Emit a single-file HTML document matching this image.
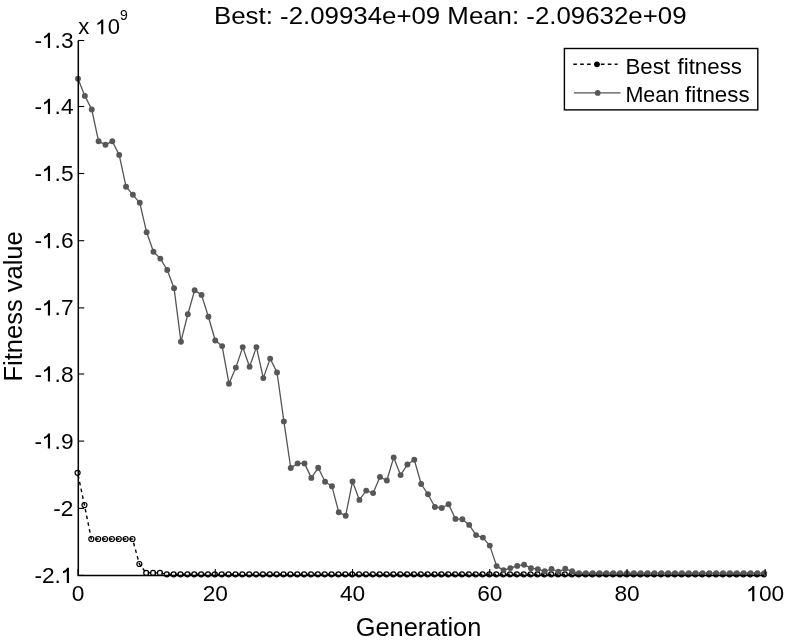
<!DOCTYPE html>
<html><head><meta charset="utf-8"><style>
html,body{margin:0;padding:0;background:#fff;width:786px;height:644px;overflow:hidden}
tspan.h1{fill-opacity:0}
svg{position:absolute;left:0;top:0;will-change:transform;font-family:"Liberation Sans",sans-serif}
</style></head><body>
<svg width="786" height="644" viewBox="0 0 786 644">
<rect width="786" height="644" fill="#fff"/>
<polyline points="77.60,472.80 84.46,505.00 91.33,539.00 98.19,539.00 105.05,539.00 111.91,539.00 118.78,539.00 125.64,539.00 132.50,539.00 139.37,564.00 146.23,572.90 153.09,572.90 159.96,572.90 166.82,574.30 173.68,574.30 180.55,574.30 187.41,574.30 194.27,574.30 201.13,574.30 208.00,574.30 214.86,574.30 221.72,574.30 228.59,574.30 235.45,574.30 242.31,574.30 249.18,574.30 256.04,574.30 262.90,574.30 269.76,574.30 276.63,574.30 283.49,574.30 290.35,574.30 297.22,574.30 304.08,574.30 310.94,574.30 317.81,574.30 324.67,574.30 331.53,574.30 338.39,574.30 345.26,574.30 352.12,574.30 358.98,574.30 365.85,574.30 372.71,574.30 379.57,574.30 386.44,574.30 393.30,574.30 400.16,574.30 407.02,574.30 413.89,574.30 420.75,574.30 427.61,574.30 434.48,574.30 441.34,574.30 448.20,574.30 455.07,574.30 461.93,574.30 468.79,574.30 475.65,574.30 482.52,574.30 489.38,574.30 496.24,574.30 503.11,574.30 509.97,574.30 516.83,574.30 523.70,574.30 530.56,574.30 537.42,574.30 544.28,574.30 551.15,574.30 558.01,574.30 564.87,574.30 571.74,574.30 578.60,574.30 585.46,574.30 592.33,574.30 599.19,574.30 606.05,574.30 612.91,574.30 619.78,574.30 626.64,574.30 633.50,574.30 640.37,574.30 647.23,574.30 654.09,574.30 660.96,574.30 667.82,574.30 674.68,574.30 681.54,574.30 688.41,574.30 695.27,574.30 702.13,574.30 709.00,574.30 715.86,574.30 722.72,574.30 729.59,574.30 736.45,574.30 743.31,574.30 750.17,574.30 757.04,574.30 763.90,574.30" fill="none" stroke="#000" stroke-width="1.4" stroke-dasharray="3.6 3.3" stroke-dashoffset="4.57"/>
<circle cx="77.60" cy="472.80" r="2.5" fill="none" stroke="#000" stroke-width="1.2"/>
<circle cx="84.46" cy="505.00" r="2.5" fill="none" stroke="#000" stroke-width="1.2"/>
<circle cx="91.33" cy="539.00" r="2.5" fill="none" stroke="#000" stroke-width="1.2"/>
<circle cx="98.19" cy="539.00" r="2.5" fill="none" stroke="#000" stroke-width="1.2"/>
<circle cx="105.05" cy="539.00" r="2.5" fill="none" stroke="#000" stroke-width="1.2"/>
<circle cx="111.91" cy="539.00" r="2.5" fill="none" stroke="#000" stroke-width="1.2"/>
<circle cx="118.78" cy="539.00" r="2.5" fill="none" stroke="#000" stroke-width="1.2"/>
<circle cx="125.64" cy="539.00" r="2.5" fill="none" stroke="#000" stroke-width="1.2"/>
<circle cx="132.50" cy="539.00" r="2.5" fill="none" stroke="#000" stroke-width="1.2"/>
<circle cx="139.37" cy="564.00" r="2.5" fill="none" stroke="#000" stroke-width="1.2"/>
<circle cx="146.23" cy="572.90" r="2.5" fill="none" stroke="#000" stroke-width="1.2"/>
<circle cx="153.09" cy="572.90" r="2.5" fill="none" stroke="#000" stroke-width="1.2"/>
<circle cx="159.96" cy="572.90" r="2.5" fill="none" stroke="#000" stroke-width="1.2"/>
<circle cx="166.82" cy="574.30" r="2.5" fill="none" stroke="#000" stroke-width="1.2"/>
<circle cx="173.68" cy="574.30" r="2.5" fill="none" stroke="#000" stroke-width="1.2"/>
<circle cx="180.55" cy="574.30" r="2.5" fill="none" stroke="#000" stroke-width="1.2"/>
<circle cx="187.41" cy="574.30" r="2.5" fill="none" stroke="#000" stroke-width="1.2"/>
<circle cx="194.27" cy="574.30" r="2.5" fill="none" stroke="#000" stroke-width="1.2"/>
<circle cx="201.13" cy="574.30" r="2.5" fill="none" stroke="#000" stroke-width="1.2"/>
<circle cx="208.00" cy="574.30" r="2.5" fill="none" stroke="#000" stroke-width="1.2"/>
<circle cx="214.86" cy="574.30" r="2.5" fill="none" stroke="#000" stroke-width="1.2"/>
<circle cx="221.72" cy="574.30" r="2.5" fill="none" stroke="#000" stroke-width="1.2"/>
<circle cx="228.59" cy="574.30" r="2.5" fill="none" stroke="#000" stroke-width="1.2"/>
<circle cx="235.45" cy="574.30" r="2.5" fill="none" stroke="#000" stroke-width="1.2"/>
<circle cx="242.31" cy="574.30" r="2.5" fill="none" stroke="#000" stroke-width="1.2"/>
<circle cx="249.18" cy="574.30" r="2.5" fill="none" stroke="#000" stroke-width="1.2"/>
<circle cx="256.04" cy="574.30" r="2.5" fill="none" stroke="#000" stroke-width="1.2"/>
<circle cx="262.90" cy="574.30" r="2.5" fill="none" stroke="#000" stroke-width="1.2"/>
<circle cx="269.76" cy="574.30" r="2.5" fill="none" stroke="#000" stroke-width="1.2"/>
<circle cx="276.63" cy="574.30" r="2.5" fill="none" stroke="#000" stroke-width="1.2"/>
<circle cx="283.49" cy="574.30" r="2.5" fill="none" stroke="#000" stroke-width="1.2"/>
<circle cx="290.35" cy="574.30" r="2.5" fill="none" stroke="#000" stroke-width="1.2"/>
<circle cx="297.22" cy="574.30" r="2.5" fill="none" stroke="#000" stroke-width="1.2"/>
<circle cx="304.08" cy="574.30" r="2.5" fill="none" stroke="#000" stroke-width="1.2"/>
<circle cx="310.94" cy="574.30" r="2.5" fill="none" stroke="#000" stroke-width="1.2"/>
<circle cx="317.81" cy="574.30" r="2.5" fill="none" stroke="#000" stroke-width="1.2"/>
<circle cx="324.67" cy="574.30" r="2.5" fill="none" stroke="#000" stroke-width="1.2"/>
<circle cx="331.53" cy="574.30" r="2.5" fill="none" stroke="#000" stroke-width="1.2"/>
<circle cx="338.39" cy="574.30" r="2.5" fill="none" stroke="#000" stroke-width="1.2"/>
<circle cx="345.26" cy="574.30" r="2.5" fill="none" stroke="#000" stroke-width="1.2"/>
<circle cx="352.12" cy="574.30" r="2.5" fill="none" stroke="#000" stroke-width="1.2"/>
<circle cx="358.98" cy="574.30" r="2.5" fill="none" stroke="#000" stroke-width="1.2"/>
<circle cx="365.85" cy="574.30" r="2.5" fill="none" stroke="#000" stroke-width="1.2"/>
<circle cx="372.71" cy="574.30" r="2.5" fill="none" stroke="#000" stroke-width="1.2"/>
<circle cx="379.57" cy="574.30" r="2.5" fill="none" stroke="#000" stroke-width="1.2"/>
<circle cx="386.44" cy="574.30" r="2.5" fill="none" stroke="#000" stroke-width="1.2"/>
<circle cx="393.30" cy="574.30" r="2.5" fill="none" stroke="#000" stroke-width="1.2"/>
<circle cx="400.16" cy="574.30" r="2.5" fill="none" stroke="#000" stroke-width="1.2"/>
<circle cx="407.02" cy="574.30" r="2.5" fill="none" stroke="#000" stroke-width="1.2"/>
<circle cx="413.89" cy="574.30" r="2.5" fill="none" stroke="#000" stroke-width="1.2"/>
<circle cx="420.75" cy="574.30" r="2.5" fill="none" stroke="#000" stroke-width="1.2"/>
<circle cx="427.61" cy="574.30" r="2.5" fill="none" stroke="#000" stroke-width="1.2"/>
<circle cx="434.48" cy="574.30" r="2.5" fill="none" stroke="#000" stroke-width="1.2"/>
<circle cx="441.34" cy="574.30" r="2.5" fill="none" stroke="#000" stroke-width="1.2"/>
<circle cx="448.20" cy="574.30" r="2.5" fill="none" stroke="#000" stroke-width="1.2"/>
<circle cx="455.07" cy="574.30" r="2.5" fill="none" stroke="#000" stroke-width="1.2"/>
<circle cx="461.93" cy="574.30" r="2.5" fill="none" stroke="#000" stroke-width="1.2"/>
<circle cx="468.79" cy="574.30" r="2.5" fill="none" stroke="#000" stroke-width="1.2"/>
<circle cx="475.65" cy="574.30" r="2.5" fill="none" stroke="#000" stroke-width="1.2"/>
<circle cx="482.52" cy="574.30" r="2.5" fill="none" stroke="#000" stroke-width="1.2"/>
<circle cx="489.38" cy="574.30" r="2.5" fill="none" stroke="#000" stroke-width="1.2"/>
<circle cx="496.24" cy="574.30" r="2.5" fill="none" stroke="#000" stroke-width="1.2"/>
<circle cx="503.11" cy="574.30" r="2.5" fill="none" stroke="#000" stroke-width="1.2"/>
<circle cx="509.97" cy="574.30" r="2.5" fill="none" stroke="#000" stroke-width="1.2"/>
<circle cx="516.83" cy="574.30" r="2.5" fill="none" stroke="#000" stroke-width="1.2"/>
<circle cx="523.70" cy="574.30" r="2.5" fill="none" stroke="#000" stroke-width="1.2"/>
<circle cx="530.56" cy="574.30" r="2.5" fill="none" stroke="#000" stroke-width="1.2"/>
<circle cx="537.42" cy="574.30" r="2.5" fill="none" stroke="#000" stroke-width="1.2"/>
<circle cx="544.28" cy="574.30" r="2.5" fill="none" stroke="#000" stroke-width="1.2"/>
<circle cx="551.15" cy="574.30" r="2.5" fill="none" stroke="#000" stroke-width="1.2"/>
<circle cx="558.01" cy="574.30" r="2.5" fill="none" stroke="#000" stroke-width="1.2"/>
<circle cx="564.87" cy="574.30" r="2.5" fill="none" stroke="#000" stroke-width="1.2"/>
<circle cx="571.74" cy="574.30" r="2.5" fill="none" stroke="#000" stroke-width="1.2"/>
<circle cx="578.60" cy="574.30" r="2.5" fill="none" stroke="#000" stroke-width="1.2"/>
<circle cx="585.46" cy="574.30" r="2.5" fill="none" stroke="#000" stroke-width="1.2"/>
<circle cx="592.33" cy="574.30" r="2.5" fill="none" stroke="#000" stroke-width="1.2"/>
<circle cx="599.19" cy="574.30" r="2.5" fill="none" stroke="#000" stroke-width="1.2"/>
<circle cx="606.05" cy="574.30" r="2.5" fill="none" stroke="#000" stroke-width="1.2"/>
<circle cx="612.91" cy="574.30" r="2.5" fill="none" stroke="#000" stroke-width="1.2"/>
<circle cx="619.78" cy="574.30" r="2.5" fill="none" stroke="#000" stroke-width="1.2"/>
<circle cx="626.64" cy="574.30" r="2.5" fill="none" stroke="#000" stroke-width="1.2"/>
<circle cx="633.50" cy="574.30" r="2.5" fill="none" stroke="#000" stroke-width="1.2"/>
<circle cx="640.37" cy="574.30" r="2.5" fill="none" stroke="#000" stroke-width="1.2"/>
<circle cx="647.23" cy="574.30" r="2.5" fill="none" stroke="#000" stroke-width="1.2"/>
<circle cx="654.09" cy="574.30" r="2.5" fill="none" stroke="#000" stroke-width="1.2"/>
<circle cx="660.96" cy="574.30" r="2.5" fill="none" stroke="#000" stroke-width="1.2"/>
<circle cx="667.82" cy="574.30" r="2.5" fill="none" stroke="#000" stroke-width="1.2"/>
<circle cx="674.68" cy="574.30" r="2.5" fill="none" stroke="#000" stroke-width="1.2"/>
<circle cx="681.54" cy="574.30" r="2.5" fill="none" stroke="#000" stroke-width="1.2"/>
<circle cx="688.41" cy="574.30" r="2.5" fill="none" stroke="#000" stroke-width="1.2"/>
<circle cx="695.27" cy="574.30" r="2.5" fill="none" stroke="#000" stroke-width="1.2"/>
<circle cx="702.13" cy="574.30" r="2.5" fill="none" stroke="#000" stroke-width="1.2"/>
<circle cx="709.00" cy="574.30" r="2.5" fill="none" stroke="#000" stroke-width="1.2"/>
<circle cx="715.86" cy="574.30" r="2.5" fill="none" stroke="#000" stroke-width="1.2"/>
<circle cx="722.72" cy="574.30" r="2.5" fill="none" stroke="#000" stroke-width="1.2"/>
<circle cx="729.59" cy="574.30" r="2.5" fill="none" stroke="#000" stroke-width="1.2"/>
<circle cx="736.45" cy="574.30" r="2.5" fill="none" stroke="#000" stroke-width="1.2"/>
<circle cx="743.31" cy="574.30" r="2.5" fill="none" stroke="#000" stroke-width="1.2"/>
<circle cx="750.17" cy="574.30" r="2.5" fill="none" stroke="#000" stroke-width="1.2"/>
<circle cx="757.04" cy="574.30" r="2.5" fill="none" stroke="#000" stroke-width="1.2"/>
<circle cx="763.90" cy="574.30" r="2.5" fill="none" stroke="#000" stroke-width="1.2"/>
<polyline points="78.00,78.70 84.86,95.90 91.73,109.50 98.59,141.30 105.45,144.70 112.31,141.30 119.18,154.90 126.04,186.70 132.90,194.80 139.77,202.80 146.63,232.30 153.49,251.70 160.36,258.60 167.22,270.00 174.08,288.30 180.94,341.70 187.81,314.20 194.67,290.20 201.53,294.90 208.40,316.70 215.26,340.50 222.12,346.10 228.99,383.70 235.85,367.60 242.71,347.10 249.58,366.70 256.44,347.10 263.30,378.10 270.16,358.60 277.03,372.50 283.89,421.40 290.75,468.00 297.62,463.40 304.48,463.40 311.34,477.90 318.21,467.80 325.07,481.70 331.93,486.30 338.79,512.30 345.66,515.70 352.52,481.50 359.38,499.90 366.25,490.60 373.11,493.10 379.97,476.90 386.84,480.50 393.70,457.40 400.56,475.10 407.42,464.50 414.29,459.80 421.15,484.00 428.01,494.30 434.88,507.00 441.74,508.00 448.60,504.30 455.47,518.90 462.33,519.30 469.19,524.90 476.05,535.10 482.92,537.60 489.78,545.60 496.64,566.10 503.51,570.10 510.37,568.10 517.23,565.90 524.10,564.70 530.96,568.20 537.82,569.20 544.68,571.30 551.55,569.00 558.41,571.70 565.27,568.80 572.14,571.30 579.00,573.10 585.86,573.10 592.73,573.10 599.59,573.10 606.45,573.10 613.31,573.10 620.18,573.10 627.04,573.10 633.90,573.10 640.77,573.10 647.63,573.10 654.49,573.10 661.36,573.10 668.22,573.10 675.08,573.10 681.94,573.10 688.81,573.10 695.67,573.10 702.53,573.10 709.40,573.10 716.26,573.10 723.12,573.10 729.99,573.10 736.85,573.10 743.71,573.10 750.57,573.10 757.44,573.10 764.30,573.10" fill="none" stroke="#555" stroke-width="1.3" stroke-linejoin="round"/>
<circle cx="78.00" cy="78.70" r="2.95" fill="#575757"/>
<circle cx="84.86" cy="95.90" r="2.95" fill="#575757"/>
<circle cx="91.73" cy="109.50" r="2.95" fill="#575757"/>
<circle cx="98.59" cy="141.30" r="2.95" fill="#575757"/>
<circle cx="105.45" cy="144.70" r="2.95" fill="#575757"/>
<circle cx="112.31" cy="141.30" r="2.95" fill="#575757"/>
<circle cx="119.18" cy="154.90" r="2.95" fill="#575757"/>
<circle cx="126.04" cy="186.70" r="2.95" fill="#575757"/>
<circle cx="132.90" cy="194.80" r="2.95" fill="#575757"/>
<circle cx="139.77" cy="202.80" r="2.95" fill="#575757"/>
<circle cx="146.63" cy="232.30" r="2.95" fill="#575757"/>
<circle cx="153.49" cy="251.70" r="2.95" fill="#575757"/>
<circle cx="160.36" cy="258.60" r="2.95" fill="#575757"/>
<circle cx="167.22" cy="270.00" r="2.95" fill="#575757"/>
<circle cx="174.08" cy="288.30" r="2.95" fill="#575757"/>
<circle cx="180.94" cy="341.70" r="2.95" fill="#575757"/>
<circle cx="187.81" cy="314.20" r="2.95" fill="#575757"/>
<circle cx="194.67" cy="290.20" r="2.95" fill="#575757"/>
<circle cx="201.53" cy="294.90" r="2.95" fill="#575757"/>
<circle cx="208.40" cy="316.70" r="2.95" fill="#575757"/>
<circle cx="215.26" cy="340.50" r="2.95" fill="#575757"/>
<circle cx="222.12" cy="346.10" r="2.95" fill="#575757"/>
<circle cx="228.99" cy="383.70" r="2.95" fill="#575757"/>
<circle cx="235.85" cy="367.60" r="2.95" fill="#575757"/>
<circle cx="242.71" cy="347.10" r="2.95" fill="#575757"/>
<circle cx="249.58" cy="366.70" r="2.95" fill="#575757"/>
<circle cx="256.44" cy="347.10" r="2.95" fill="#575757"/>
<circle cx="263.30" cy="378.10" r="2.95" fill="#575757"/>
<circle cx="270.16" cy="358.60" r="2.95" fill="#575757"/>
<circle cx="277.03" cy="372.50" r="2.95" fill="#575757"/>
<circle cx="283.89" cy="421.40" r="2.95" fill="#575757"/>
<circle cx="290.75" cy="468.00" r="2.95" fill="#575757"/>
<circle cx="297.62" cy="463.40" r="2.95" fill="#575757"/>
<circle cx="304.48" cy="463.40" r="2.95" fill="#575757"/>
<circle cx="311.34" cy="477.90" r="2.95" fill="#575757"/>
<circle cx="318.21" cy="467.80" r="2.95" fill="#575757"/>
<circle cx="325.07" cy="481.70" r="2.95" fill="#575757"/>
<circle cx="331.93" cy="486.30" r="2.95" fill="#575757"/>
<circle cx="338.79" cy="512.30" r="2.95" fill="#575757"/>
<circle cx="345.66" cy="515.70" r="2.95" fill="#575757"/>
<circle cx="352.52" cy="481.50" r="2.95" fill="#575757"/>
<circle cx="359.38" cy="499.90" r="2.95" fill="#575757"/>
<circle cx="366.25" cy="490.60" r="2.95" fill="#575757"/>
<circle cx="373.11" cy="493.10" r="2.95" fill="#575757"/>
<circle cx="379.97" cy="476.90" r="2.95" fill="#575757"/>
<circle cx="386.84" cy="480.50" r="2.95" fill="#575757"/>
<circle cx="393.70" cy="457.40" r="2.95" fill="#575757"/>
<circle cx="400.56" cy="475.10" r="2.95" fill="#575757"/>
<circle cx="407.42" cy="464.50" r="2.95" fill="#575757"/>
<circle cx="414.29" cy="459.80" r="2.95" fill="#575757"/>
<circle cx="421.15" cy="484.00" r="2.95" fill="#575757"/>
<circle cx="428.01" cy="494.30" r="2.95" fill="#575757"/>
<circle cx="434.88" cy="507.00" r="2.95" fill="#575757"/>
<circle cx="441.74" cy="508.00" r="2.95" fill="#575757"/>
<circle cx="448.60" cy="504.30" r="2.95" fill="#575757"/>
<circle cx="455.47" cy="518.90" r="2.95" fill="#575757"/>
<circle cx="462.33" cy="519.30" r="2.95" fill="#575757"/>
<circle cx="469.19" cy="524.90" r="2.95" fill="#575757"/>
<circle cx="476.05" cy="535.10" r="2.95" fill="#575757"/>
<circle cx="482.92" cy="537.60" r="2.95" fill="#575757"/>
<circle cx="489.78" cy="545.60" r="2.95" fill="#575757"/>
<circle cx="496.64" cy="566.10" r="2.95" fill="#575757"/>
<circle cx="503.51" cy="570.10" r="2.95" fill="#575757"/>
<circle cx="510.37" cy="568.10" r="2.95" fill="#575757"/>
<circle cx="517.23" cy="565.90" r="2.95" fill="#575757"/>
<circle cx="524.10" cy="564.70" r="2.95" fill="#575757"/>
<circle cx="530.96" cy="568.20" r="2.95" fill="#575757"/>
<circle cx="537.82" cy="569.20" r="2.95" fill="#575757"/>
<circle cx="544.68" cy="571.30" r="2.95" fill="#575757"/>
<circle cx="551.55" cy="569.00" r="2.95" fill="#575757"/>
<circle cx="558.41" cy="571.70" r="2.95" fill="#575757"/>
<circle cx="565.27" cy="568.80" r="2.95" fill="#575757"/>
<circle cx="572.14" cy="571.30" r="2.95" fill="#575757"/>
<circle cx="579.00" cy="573.10" r="2.95" fill="#575757"/>
<circle cx="585.86" cy="573.10" r="2.95" fill="#575757"/>
<circle cx="592.73" cy="573.10" r="2.95" fill="#575757"/>
<circle cx="599.59" cy="573.10" r="2.95" fill="#575757"/>
<circle cx="606.45" cy="573.10" r="2.95" fill="#575757"/>
<circle cx="613.31" cy="573.10" r="2.95" fill="#575757"/>
<circle cx="620.18" cy="573.10" r="2.95" fill="#575757"/>
<circle cx="627.04" cy="573.10" r="2.95" fill="#575757"/>
<circle cx="633.90" cy="573.10" r="2.95" fill="#575757"/>
<circle cx="640.77" cy="573.10" r="2.95" fill="#575757"/>
<circle cx="647.63" cy="573.10" r="2.95" fill="#575757"/>
<circle cx="654.49" cy="573.10" r="2.95" fill="#575757"/>
<circle cx="661.36" cy="573.10" r="2.95" fill="#575757"/>
<circle cx="668.22" cy="573.10" r="2.95" fill="#575757"/>
<circle cx="675.08" cy="573.10" r="2.95" fill="#575757"/>
<circle cx="681.94" cy="573.10" r="2.95" fill="#575757"/>
<circle cx="688.81" cy="573.10" r="2.95" fill="#575757"/>
<circle cx="695.67" cy="573.10" r="2.95" fill="#575757"/>
<circle cx="702.53" cy="573.10" r="2.95" fill="#575757"/>
<circle cx="709.40" cy="573.10" r="2.95" fill="#575757"/>
<circle cx="716.26" cy="573.10" r="2.95" fill="#575757"/>
<circle cx="723.12" cy="573.10" r="2.95" fill="#575757"/>
<circle cx="729.99" cy="573.10" r="2.95" fill="#575757"/>
<circle cx="736.85" cy="573.10" r="2.95" fill="#575757"/>
<circle cx="743.71" cy="573.10" r="2.95" fill="#575757"/>
<circle cx="750.57" cy="573.10" r="2.95" fill="#575757"/>
<circle cx="757.44" cy="573.10" r="2.95" fill="#575757"/>
<circle cx="764.30" cy="573.10" r="2.95" fill="#575757"/>
<path d="M78.3 40.5 V575.4 H764" fill="none" stroke="#000" stroke-width="1.5"/>
<path d="M78.3 40.50 H84.2" stroke="#000" stroke-width="1.1"/>
<text x="73.5" y="48.00" text-anchor="end" font-size="22.7">-<tspan class="h1">1</tspan>.3</text>
<path d="M78.3 106.50 H84.2" stroke="#000" stroke-width="1.1"/>
<text x="73.5" y="114.00" text-anchor="end" font-size="22.7">-<tspan class="h1">1</tspan>.4</text>
<path d="M78.3 173.50 H84.2" stroke="#000" stroke-width="1.1"/>
<text x="73.5" y="181.00" text-anchor="end" font-size="22.7">-<tspan class="h1">1</tspan>.5</text>
<path d="M78.3 240.70 H84.2" stroke="#000" stroke-width="1.1"/>
<text x="73.5" y="248.20" text-anchor="end" font-size="22.7">-<tspan class="h1">1</tspan>.6</text>
<path d="M78.3 307.90 H84.2" stroke="#000" stroke-width="1.1"/>
<text x="73.5" y="315.40" text-anchor="end" font-size="22.7">-<tspan class="h1">1</tspan>.7</text>
<path d="M78.3 374.00 H84.2" stroke="#000" stroke-width="1.1"/>
<text x="73.5" y="381.50" text-anchor="end" font-size="22.7">-<tspan class="h1">1</tspan>.8</text>
<path d="M78.3 441.10 H84.2" stroke="#000" stroke-width="1.1"/>
<text x="73.5" y="448.60" text-anchor="end" font-size="22.7">-<tspan class="h1">1</tspan>.9</text>
<path d="M78.3 508.40 H84.2" stroke="#000" stroke-width="1.1"/>
<text x="73.5" y="515.90" text-anchor="end" font-size="22.7">-2</text>
<path d="M78.3 575.40 H84.2" stroke="#000" stroke-width="1.1"/>
<text x="73.5" y="582.90" text-anchor="end" font-size="22.7">-2.<tspan class="h1">1</tspan></text>
<path d="M78.00 575.4 V569" stroke="#000" stroke-width="1.1"/>
<text x="78.00" y="601.3" text-anchor="middle" font-size="22.7">0</text>
<path d="M215.26 575.4 V569" stroke="#000" stroke-width="1.1"/>
<text x="215.26" y="601.3" text-anchor="middle" font-size="22.7">20</text>
<path d="M352.52 575.4 V569" stroke="#000" stroke-width="1.1"/>
<text x="352.52" y="601.3" text-anchor="middle" font-size="22.7">40</text>
<path d="M489.78 575.4 V569" stroke="#000" stroke-width="1.1"/>
<text x="489.78" y="601.3" text-anchor="middle" font-size="22.7">60</text>
<path d="M627.04 575.4 V569" stroke="#000" stroke-width="1.1"/>
<text x="627.04" y="601.3" text-anchor="middle" font-size="22.7">80</text>
<path d="M765.20 575.4 V569" stroke="#000" stroke-width="1.1"/>
<text x="765.20" y="601.3" text-anchor="middle" font-size="22.7"><tspan class="h1">1</tspan>00</text>
<path transform="translate(41.95 48.00) scale(0.011084 -0.011084)" d="M730 0H535V1060Q400 940 185 860V1040Q420 1120 575 1370H730Z"/>
<path transform="translate(41.95 114.00) scale(0.011084 -0.011084)" d="M730 0H535V1060Q400 940 185 860V1040Q420 1120 575 1370H730Z"/>
<path transform="translate(41.95 181.00) scale(0.011084 -0.011084)" d="M730 0H535V1060Q400 940 185 860V1040Q420 1120 575 1370H730Z"/>
<path transform="translate(41.95 248.20) scale(0.011084 -0.011084)" d="M730 0H535V1060Q400 940 185 860V1040Q420 1120 575 1370H730Z"/>
<path transform="translate(41.95 315.40) scale(0.011084 -0.011084)" d="M730 0H535V1060Q400 940 185 860V1040Q420 1120 575 1370H730Z"/>
<path transform="translate(41.95 381.50) scale(0.011084 -0.011084)" d="M730 0H535V1060Q400 940 185 860V1040Q420 1120 575 1370H730Z"/>
<path transform="translate(41.95 448.60) scale(0.011084 -0.011084)" d="M730 0H535V1060Q400 940 185 860V1040Q420 1120 575 1370H730Z"/>
<path transform="translate(60.88 582.90) scale(0.011084 -0.011084)" d="M730 0H535V1060Q400 940 185 860V1040Q420 1120 575 1370H730Z"/>
<path transform="translate(746.26 601.30) scale(0.011084 -0.011084)" d="M730 0H535V1060Q400 940 185 860V1040Q420 1120 575 1370H730Z"/>
<path transform="translate(95.43 34.20) scale(0.010742 -0.010742)" d="M730 0H535V1060Q400 940 185 860V1040Q420 1120 575 1370H730Z"/>
<text x="78.3" y="34.2" font-size="22">x <tspan class="h1">1</tspan>0</text>
<text x="120" y="20" font-size="14">9</text>
<text x="214" y="24.2" font-size="24" textLength="472.5" lengthAdjust="spacingAndGlyphs">Best: -2.09934e+09 Mean: -2.09632e+09</text>
<text x="418.5" y="635.5" text-anchor="middle" font-size="25.4">Generation</text>
<text transform="translate(21.9 306.4) rotate(-90)" text-anchor="middle" font-size="25.5">Fitness value</text>
<rect x="564.4" y="48.5" width="193.4" height="61.4" fill="#fff" stroke="#000" stroke-width="1.4"/>
<path d="M573.3 64.3 H617.6" stroke="#000" stroke-width="1.4" stroke-dasharray="3.6 3.3"/>
<circle cx="597" cy="64.3" r="2.9" fill="#000"/>
<path d="M573.9 92.9 H620.5" stroke="#555" stroke-width="1.3"/>
<circle cx="597.7" cy="92.9" r="2.9" fill="#575757"/>
<text x="625.4" y="73.6" font-size="22.3">Best</text>
<text x="677.5" y="73.6" font-size="22.3">fitness</text>
<text x="625.4" y="102.3" font-size="22.3" textLength="53.8" lengthAdjust="spacingAndGlyphs">Mean</text>
<text x="685.1" y="102.3" font-size="22.3">fitness</text>
</svg>
</body></html>
